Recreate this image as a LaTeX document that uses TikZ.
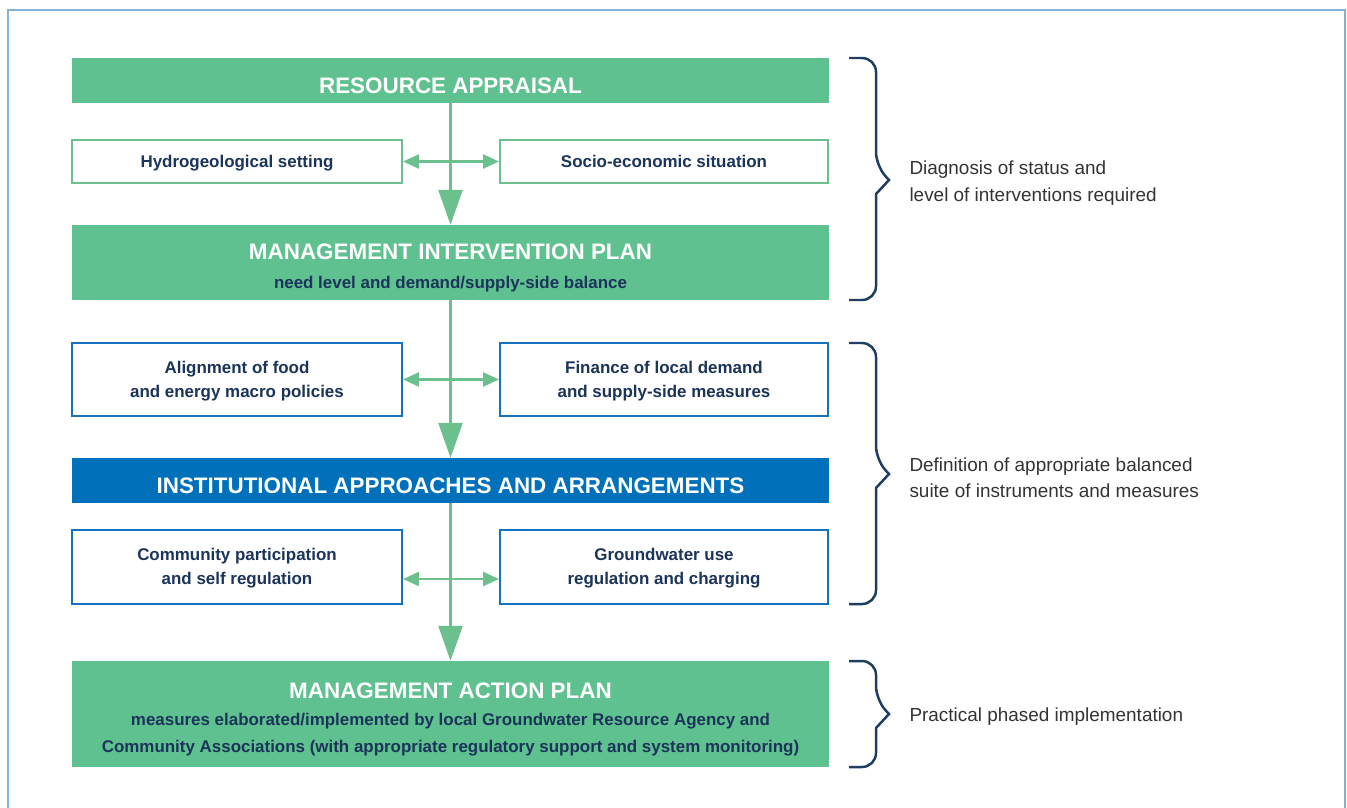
\documentclass[tikz,border=0pt]{standalone}
\usepackage{fontspec}
\setmainfont{Liberation Sans}
\usepackage{tikz}
\usetikzlibrary{arrows.meta,calc}

\definecolor{leaf}{RGB}{96,193,144}
\definecolor{leafline}{RGB}{108,192,142}
\definecolor{ocean}{RGB}{0,112,187}
\definecolor{oceanline}{RGB}{22,114,190}
\definecolor{navy}{RGB}{27,52,89}
\definecolor{bracecol}{RGB}{29,61,98}
\definecolor{frameblue}{RGB}{128,178,220}
\definecolor{notegray}{RGB}{51,51,51}
\newcommand{\subline}[1]{{\fontsize{17}{25}\selectfont\color{navy}#1}}
\newcommand{\capstrut}{\rule{0pt}{26.5bp}}
\newcommand{\boxstrut}{\rule[-3.6bp]{0pt}{18.5bp}}

\begin{document}
\begin{tikzpicture}[x=1bp,y=-1bp,
  stage/.style={fill=leaf,minimum width=757bp,inner sep=0pt,align=center,text=white,
    font=\fontsize{22.5}{27}\selectfont\bfseries},
  side/.style={draw=leafline,line width=2pt,fill=white,minimum width=330bp,inner sep=0pt,
    align=center,text=navy,font=\fontsize{17}{24}\selectfont\bfseries},
  flow/.style={draw=leafline,line width=2.5pt},
  bigtip/.style={-{Triangle[width=24pt,length=35pt]}},
  twotip/.style={{Triangle[width=14pt,length=16pt]}-{Triangle[width=14pt,length=16pt]}},
  curly/.style={draw=bracecol,line width=2.5pt},
  note/.style={anchor=west,align=left,text=notegray,font=\fontsize{19}{26.5}\selectfont}]
\useasboundingbox (0,0) rectangle (1347,807);
\draw[frameblue,line width=2pt] (8,820) -- (8,10) -- (1345,10) -- (1345,820);

\node[stage,minimum height=45bp] (ra) at (450.5,80.5) {\capstrut RESOURCE APPRAISAL};
\node[side,minimum height=43bp] (hydro) at (237,161.5) {\boxstrut Hydrogeological setting};
\node[side,minimum height=43bp,minimum width=328bp] (socio) at (664,161.5) {\boxstrut Socio-economic situation};

\node[stage,minimum height=75bp] (mip) at (450.5,262.5)
  {\capstrut MANAGEMENT INTERVENTION PLAN\\[2pt]\subline{need level and demand/supply-side balance}};
\node[side,minimum height=73bp,draw=oceanline] (align) at (237,379.5)
  {\boxstrut Alignment of food\\and energy macro policies};
\node[side,minimum height=73bp,minimum width=328bp,draw=oceanline] (finance) at (664,379.5)
  {\boxstrut Finance of local demand\\and supply-side measures};

\node[stage,minimum height=45bp,fill=ocean] (inst) at (450.5,480.5)
  {\capstrut INSTITUTIONAL APPROACHES AND ARRANGEMENTS};
\node[side,minimum height=74bp,draw=oceanline] (comm) at (237,567)
  {\boxstrut Community participation\\and self regulation};
\node[side,minimum height=74bp,minimum width=328bp,draw=oceanline] (gw) at (664,567)
  {\boxstrut Groundwater use\\regulation and charging};

\node[stage,minimum height=106bp] (map) at (450.5,714)
  {\capstrut MANAGEMENT ACTION PLAN\\[1pt]\subline{measures elaborated/implemented by local Groundwater Resource Agency and}\\
   \subline{Community Associations (with appropriate regulatory support and system monitoring)}};

\draw[flow,bigtip] (ra) -- (mip);
\draw[flow,bigtip] (mip) -- (inst);
\draw[flow,bigtip] (inst) -- (map);
\draw[flow,twotip] (hydro) -- (socio);
\draw[flow,twotip] (align) -- (finance);
\draw[flow,twotip] ($(comm.east)+(0,12)$) -- ($(gw.west)+(0,12)$);

\draw[curly,rounded corners=14bp] (849,58) -- (876,58) -- (876,166) [sharp corners] -- (889,180)
  -- (876,194) [rounded corners=14bp] -- (876,300) -- (849,300);
\draw[curly,rounded corners=14bp] (849,343) -- (876,343) -- (876,460) [sharp corners] -- (889,474)
  -- (876,488) [rounded corners=14bp] -- (876,604) -- (849,604);
\draw[curly,rounded corners=14bp] (849,661) -- (876,661) -- (876,700) [sharp corners] -- (889,714)
  -- (876,728) [rounded corners=14bp] -- (876,767) -- (849,767);

\node[note] (diag) at (906,183) {Diagnosis of status and\\level of interventions required};
\node[note] (defn) at (906,478) {Definition of appropriate balanced\\suite of instruments and measures};
\node[note] (impl) at (906,717) {Practical phased implementation};
\end{tikzpicture}
\end{document}
